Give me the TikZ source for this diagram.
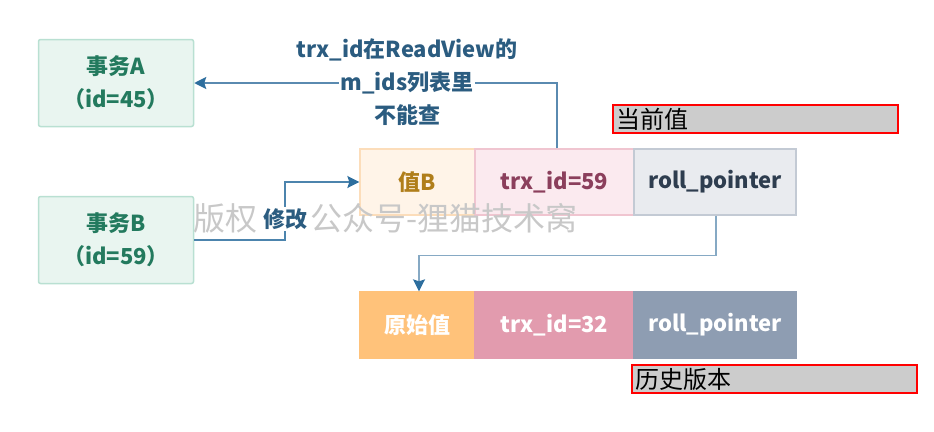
\documentclass[tikz,border=0pt]{standalone}
\usepackage{fontspec}
\setmainfont{Noto Sans CJK SC}
\usetikzlibrary{arrows.meta}
\definecolor{gfill}{HTML}{E9F5F0}
\definecolor{gdraw}{HTML}{B9E0D2}
\definecolor{gtext}{HTML}{237A5E}
\definecolor{ofill}{HTML}{FFF4E8}
\definecolor{odraw}{HTML}{FCDDBA}
\definecolor{otext}{HTML}{B07E1A}
\definecolor{pfill}{HTML}{FBEAEF}
\definecolor{pdraw}{HTML}{F0C5D0}
\definecolor{ptext}{HTML}{8B3F5C}
\definecolor{sfill}{HTML}{E9EBEF}
\definecolor{sdraw}{HTML}{C3CAD4}
\definecolor{stext}{HTML}{2E3D4F}
\definecolor{o2}{HTML}{FFC27A}
\definecolor{p2}{HTML}{E29BAE}
\definecolor{s2}{HTML}{8E9DB2}
\definecolor{lblue}{HTML}{2B5C80}
\definecolor{arr}{HTML}{2D6E9E}
\definecolor{line1}{HTML}{5A8AB0}
\definecolor{line2}{HTML}{86A9C4}
\definecolor{wm}{HTML}{C8C8C8}
\definecolor{notegray}{HTML}{CCCCCC}
\begin{document}
\begin{tikzpicture}[x=1pt,y=-1pt,
  txbox/.style={draw=gdraw, fill=gfill, line width=1.5pt, rounded corners=2pt,
    minimum width=155pt, minimum height=87pt, inner sep=0pt, align=center,
    text=gtext, font=\fontsize{22}{28}\selectfont\bfseries},
  cell/.style={minimum height=66pt, inner sep=0pt, line width=1.3pt,
    font=\fontsize{22}{26}\selectfont\bfseries},
  conn/.style={line width=1.6pt, -{Stealth[length=12pt,width=12pt,inset=2pt,color=arr]}},
  lbl/.style={text=lblue, font=\fontsize{22}{26}\selectfont\bfseries, inner sep=1pt},
  note/.style={draw=red, line width=2.2pt, fill=notegray, minimum height=28pt,
    text width=279pt, inner xsep=3pt, inner ysep=0pt, align=left,
    font=\fontsize{24}{24}\selectfont, text=black},
  wmark/.style={anchor=west, text=wm, font=\fontsize{32}{32}\selectfont, inner sep=0pt}
]
\useasboundingbox (0,0) rectangle (934,431);

% transactions
\node[txbox] (A) at (116,83) {事务A\\[5pt]（id=45）};
\node[txbox] (B) at (116,240) {事务B\\[5pt]（id=59）};

% current version row
\node[cell, draw=odraw, fill=ofill, text=otext, minimum width=115pt] (vB) at (417.5,182) {值B};
\node[cell, draw=pdraw, fill=pfill, text=ptext, minimum width=159pt] (t59) at (554.5,182) {trx\_id=59};
\node[cell, draw=sdraw, fill=sfill, text=stext, minimum width=162pt] (r59) at (715,182) {roll\_pointer};

% history row
\node[cell, draw=o2, fill=o2, text=white, minimum width=115pt] (orig) at (417.5,325) {原始值};
\node[cell, draw=p2, fill=p2, text=white, minimum width=159pt] (t32) at (554.5,325) {trx\_id=32};
\node[cell, draw=s2, fill=s2, text=white, minimum width=162pt] (r32) at (715,325) {roll\_pointer};

% connectors
\draw[conn, line1] ([xshift=2.5pt]t59.north) |- (A.east);
\draw[conn, arr!85] (B.east) -- ++(91,0) |- (vB.west);
\draw[conn, line2] ([xshift=1pt]r59.south) -- ++(0,40) -| ([xshift=1.5pt]orig.north);

% label for arrow to A
\node[lbl] (l1) at (407,50) {trx\_id在ReadView的};
\node[lbl, fill=white] (l2) at (407,83) {m\_ids列表里};
\node[lbl] (l3) at (407,115) {不能查};

% watermark
\node[wmark] (wm1) at (193,218) {版权};
\node[wmark] (wm2) at (310,218) {公众号-狸猫技术窝};

% modify label
\node[lbl, fill=white, inner sep=1pt] (mod) at (285,219) {修改};

% notes
\node[note] (n1) at (755.5,119) {当前值};
\node[note] (n2) at (774.5,379) {历史版本};
\end{tikzpicture}
\end{document}
